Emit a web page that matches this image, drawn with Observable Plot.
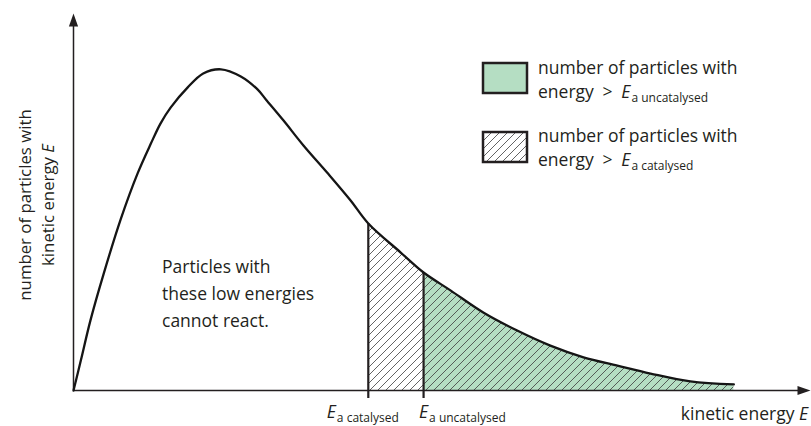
<!DOCTYPE html>
<html>
<head>
<meta charset="utf-8">
<script src="https://cdn.jsdelivr.net/npm/d3@7"></script>
<script src="https://cdn.jsdelivr.net/npm/@observablehq/plot@0.6"></script>
<style>
  body { margin: 0; background: #fff; }
  #chart svg { display: block; }
</style>
</head>
<body>
<div id="chart"></div>
<script>
// Kinetic energy (arbitrary units) and number of particles (arbitrary units)
const energy = [0, 1.0, 2.3, 4.1, 6.4, 8.7, 10.5, 11.8, 13.2, 15.5, 17.6, 20.0, 22.7, 25.0, 26.1, 28.5, 31.2, 34.5, 37.6, 40.0, 44.4, 47.5, 51.2, 55.6, 60.2, 64.7, 69.2, 73.8, 78.3, 83.7, 89.6];
const particles = [0, 8.0, 18.6, 31.0, 45.4, 57.6, 65.5, 70.8, 75.1, 80.4, 84.1, 85.2, 83.3, 79.8, 77.2, 71.6, 65.0, 57.6, 50.4, 44.3, 36.6, 31.3, 26.5, 20.7, 15.9, 11.9, 8.8, 6.6, 4.5, 2.4, 1.6];
const Ecat = 40.0;     // E_a catalysed
const Euncat = 47.5;   // E_a uncatalysed
const xDomain = [0, 100];
const yDomain = [0, 100];
const thresholdLabels = ["catalysed", "uncatalysed"];
const legendLabels = ["uncatalysed", "catalysed"];

const INK = "#231f20";
const GREEN = "#b5dec3";
const FONT = "'Open Sans', sans-serif";
const CURVE = "catmull-rom";
const FS = 17.5;     // main text size
const SUB = 12;      // subscript size

const rows = energy.map((e, i) => ({energy: e, particles: particles[i]}));
const thresholds = rows.filter(d => d.energy === Ecat || d.energy === Euncat);
const arrowHead = { draw(ctx) { ctx.moveTo(0, 0); ctx.lineTo(4.6, 13); ctx.lineTo(-4.6, 13); ctx.closePath(); } };

const chart = Plot.plot({
  width: 811,
  height: 426,
  marginLeft: 73,
  marginRight: 1,
  marginTop: 13,
  marginBottom: 36,
  x: {domain: xDomain, axis: null},
  y: {domain: yDomain, axis: null},
  marks: [
    Plot.areaY(rows, {filter: d => d.energy >= Euncat, x: "energy", y1: 0, y2: "particles", fill: GREEN, curve: CURVE}),
    Plot.areaY(rows, {filter: d => d.energy >= Ecat, x: "energy", y1: 0, y2: "particles", fill: "url(#hatch)", curve: CURVE}),
    Plot.ruleX(thresholds, {x: "energy", y1: "particles", y2: 0, insetBottom: -8, stroke: INK, strokeWidth: 2.2}),
    // axes
    Plot.ruleY([yDomain[0]], {x1: xDomain[0], x2: xDomain[1] - 1.5, stroke: INK, strokeWidth: 1.5}),
    Plot.ruleX([xDomain[0]], {y1: yDomain[0], y2: yDomain[1] - 3, stroke: INK, strokeWidth: 1.5}),
    Plot.dot([{e: xDomain[0], p: yDomain[1]}], {x: "e", y: "p", symbol: arrowHead, fill: INK, stroke: null}),
    Plot.dot([{e: xDomain[1], p: yDomain[0]}], {x: "e", y: "p", symbol: arrowHead, rotate: 90, fill: INK, stroke: null}),
    Plot.line(rows, {x: "energy", y: "particles", stroke: "#151515", strokeWidth: 2.3, curve: CURVE})
  ]
});

document.getElementById("chart").appendChild(chart);

const svg = d3.select(chart);
const defs = svg.insert("defs", ":first-child");
const pat = defs.append("pattern").attr("id", "hatch").attr("patternUnits", "userSpaceOnUse")
  .attr("width", 8).attr("height", 8);
pat.append("path").attr("d", "M-2,2L2,-2M0,8L8,0M6,10L10,6")
  .attr("stroke", "#3c3c3c").attr("stroke-width", 0.8).attr("fill", "none");

const sx = chart.scale("x");
const g = svg.append("g").attr("font-family", FONT).attr("fill", INK).attr("text-anchor", "start");

function richE(sel, x, y, sub, prefix) {
  const t = sel.append("text").attr("x", x).attr("y", y).attr("font-size", FS);
  if (prefix) t.append("tspan").text(prefix);
  t.append("tspan").attr("font-style", "italic").text("E");
  t.append("tspan").attr("font-size", SUB).attr("dy", 4).attr("dx", 1).text("a " + sub);
  return t;
}

// y-axis label
const yl = g.append("text").attr("transform", "translate(31,205) rotate(-90)")
  .attr("text-anchor", "middle").attr("font-size", 16.8);
yl.append("tspan").attr("x", 0).attr("y", 0).text("number of particles with");
const yl2 = yl.append("tspan").attr("x", 0).attr("y", 23);
yl2.append("tspan").text("kinetic energy ");
yl2.append("tspan").attr("font-style", "italic").text("E");

// x-axis label
const xl = g.append("text").attr("x", 808).attr("y", 420).attr("text-anchor", "end").attr("font-size", FS);
xl.append("tspan").text("kinetic energy ");
xl.append("tspan").attr("font-style", "italic").text("E");

// threshold labels
richE(g, sx.apply(Ecat) - 41, 418, thresholdLabels[0]);
richE(g, sx.apply(Euncat) - 4, 418, thresholdLabels[1]);

// annotation
["Particles with", "these low energies", "cannot react."].forEach((s, i) => {
  g.append("text").attr("x", 162).attr("y", 273 + i * 27).attr("font-size", FS).text(s);
});

// legend
const lg = g.append("g");
lg.append("rect").attr("x", 483).attr("y", 63).attr("width", 44).attr("height", 30)
  .attr("fill", GREEN).attr("stroke", INK).attr("stroke-width", 2.5);
lg.append("rect").attr("x", 483).attr("y", 132).attr("width", 44).attr("height", 30)
  .attr("fill", "url(#hatch)").attr("stroke", INK).attr("stroke-width", 2.5);
[[74, 98, legendLabels[0]], [142, 166, legendLabels[1]]].forEach(([y1, y2, lab]) => {
  lg.append("text").attr("x", 538).attr("y", y1).attr("font-size", FS).text("number of particles with");
  richE(lg, 538, y2, lab, "energy\u2002>\u2002");
});
</script>
</body>
</html>
